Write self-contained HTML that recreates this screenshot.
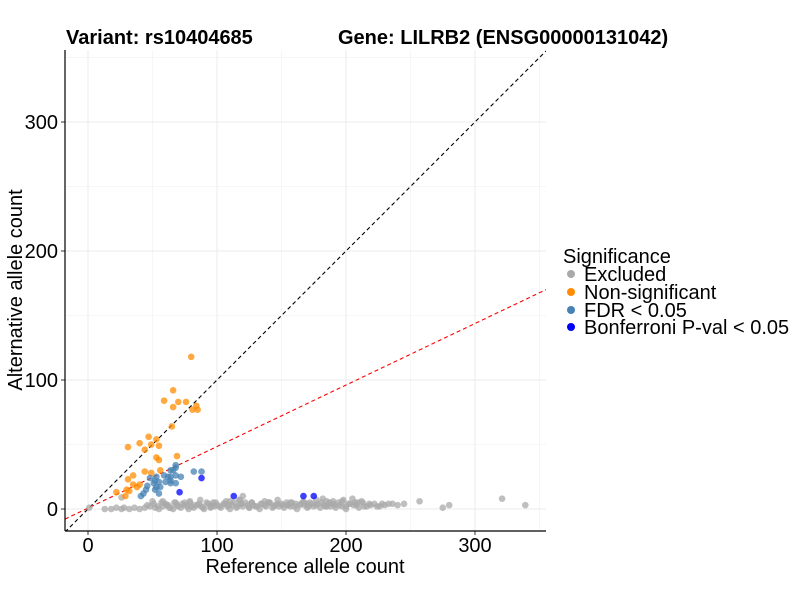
<!DOCTYPE html>
<html><head><meta charset="utf-8"><style>
body{margin:0;background:#fff;font-family:"Liberation Sans",sans-serif}
svg text{font-family:"Liberation Sans",sans-serif}
</style></head><body>
<svg id="chart" width="800" height="600" xmlns="http://www.w3.org/2000/svg">
<rect width="800" height="600" fill="#fff"/>
<g id="grid"></g>
<g id="lines"></g>
<g id="pts"></g>
<g id="axes"></g>
<text x="66" y="44" font-size="20" font-weight="bold">Variant: rs10404685</text>
<text x="338" y="44" font-size="20" font-weight="bold">Gene: LILRB2 (ENSG00000131042)</text>
<text x="305" y="573" font-size="20" text-anchor="middle">Reference allele count</text>
<text transform="translate(22,290) rotate(-90)" font-size="20" text-anchor="middle">Alternative allele count</text>
<g>
<text x="563" y="263" font-size="20">Significance</text>
<circle cx="571" cy="274" r="4" fill="#A9A9A9"/>
<text x="584" y="281" font-size="20">Excluded</text>
<circle cx="571" cy="292" r="4" fill="#FF8C00"/>
<text x="584" y="299" font-size="20">Non-significant</text>
<circle cx="571" cy="310" r="4" fill="#4682B4"/>
<text x="584" y="317" font-size="20">FDR &lt; 0.05</text>
<circle cx="571" cy="327" r="4" fill="#0000FF"/>
<text x="584" y="334" font-size="20">Bonferroni P-val &lt; 0.05</text>
</g>
</svg>
<script>
const xTicks=[0,100,200,300];
const yTicks=[0,100,200,300];
const minorTicks=[50,150,250,350];
const orangeX=[80,66,59,70,76,66,84,81,85,65,47,53,40,49,55,31,44,53,55,69,44,56,49,35,31,40,35,38,30,32,22,29];
const orangeY=[118,92,84,83,83,79,80,77,77,64,56,54,51,50,49,48,46,40,38,41,29,30,28,26,23,19,19,17,15,14,13,10];
const fdrX=[68,68,66,64,82,88,72,68,59,62,64,53,48,64,60,68,64,55,53,51,46,45,56,52,55,43,41,52];
const fdrY=[34,32,30,30,29,29,25,26,26,25,25,25,24,22,21,20,20,21,17,20,18,15,17,15,12,12,10,22];
const bonfX=[88,71,113,167,175];
const bonfY=[24,13,10,10,10];
const grayX=[1,13,18,22,26,28,32,36,40,44,48,52,55,58,60,63,66,70,72,75,78,80,82,85,88,90,93,95,98,100,103,105,108,110,112,115,118,120,122,125,128,130,133,135,138,140,143,145,148,150,152,155,158,160,162,165,168,170,172,175,178,180,183,185,188,190,192,195,198,200,203,205,208,210,213,216,219,222,226,230,233,236,240,245,257,275,280,321,339,26,50,62,75,95,110,125,140,155,170,185,200,120,118,182,190,212,228,
46,51,54,57,61,64,67,69,73,77,79,83,86,89,92,96,99,102,106,109,113,116,119,124,127,131,134,137,141,144,147,151,154,157,161,164,167,171,174,177,181,184,187,191,194,197,202,206,209,214,218,224,58,68,79,87,97,107,117,127,137,147,157,167,177,187,197,207];
const grayY=[1,0,0,1,0,1,0,1,0,1,2,1,0,2,4,1,0,2,1,3,0,2,1,3,2,0,4,1,2,3,1,4,2,0,3,1,4,2,5,1,3,2,0,4,2,5,1,3,2,4,1,3,5,2,0,4,3,1,5,2,4,1,3,6,2,4,1,3,7,2,4,8,3,1,5,2,3,4,2,3,4,4,3,4,6,1,3,8,3,9,6,3,5,2,6,1,5,3,4,2,0,10,7,8,6,6,4,
3,4,2,5,3,1,5,3,4,2,5,3,4,1,5,3,5,2,4,3,5,2,4,3,5,2,4,3,5,2,4,3,5,2,4,3,5,2,4,3,5,2,4,3,5,2,4,3,5,2,4,2,6,5,6,7,5,6,7,5,6,7,5,6,7,5,6,5];
const NS='http://www.w3.org/2000/svg';
const L=65,R=546,T=50,B=531;
const sx=v=>88+v*1.29, sy=v=>509-v*1.29;
function mk(tag,attrs,parent){const e=document.createElementNS(NS,tag);for(const k in attrs)e.setAttribute(k,attrs[k]);parent.appendChild(e);return e;}
const grid=document.getElementById('grid'),lines=document.getElementById('lines'),pts=document.getElementById('pts'),axes=document.getElementById('axes');
minorTicks.forEach(v=>{
  if(sx(v)<R){const g=mk('line',{x1:sx(v),x2:sx(v),y1:T,y2:B,stroke:'#f3f3f3','stroke-width':0.7},grid);
  
  }
  if(sy(v)>T){const h=mk('line',{x1:L,x2:R,y1:sy(v),y2:sy(v),stroke:'#f3f3f3','stroke-width':0.7},grid);
  
  }
});
xTicks.forEach(v=>{
  const g=mk('line',{x1:sx(v),x2:sx(v),y1:T,y2:B,stroke:'#ebebeb','stroke-width':1},grid);
  
  
  const t=mk('line',{x1:sx(v),x2:sx(v),y1:B,y2:B+4,stroke:'#333','stroke-width':1},axes);
  
  
  const l=mk('text',{x:sx(v),y:B+21,'font-size':20,'text-anchor':'middle',fill:'#000'},axes);
  l.textContent=v;
  
  
});
yTicks.forEach(v=>{
  const g=mk('line',{x1:L,x2:R,y1:sy(v),y2:sy(v),stroke:'#ebebeb','stroke-width':1},grid);
  
  
  const t=mk('line',{x1:L-4,x2:L,y1:sy(v),y2:sy(v),stroke:'#333','stroke-width':1},axes);
  
  
  const l=mk('text',{x:L-7,y:sy(v)+7,'font-size':20,'text-anchor':'end',fill:'#000'},axes);
  l.textContent=v;
  
  
});
const ax1=mk('line',{x1:L,x2:L,y1:T,y2:B,stroke:'#000','stroke-width':1.2},axes);


const ax2=mk('line',{x1:L,x2:R,y1:B,y2:B,stroke:'#000','stroke-width':1.2},axes);


const x0=(L-88)/1.29,x1=(R-88)/1.29;
const cp=mk('clipPath',{id:'cp'},lines);mk('rect',{x:L,y:T,width:R-L,height:B-T},cp);
const dl=mk('line',{x1:sx(x0),y1:sy(x0),x2:sx(x1),y2:sy(x1),stroke:'#000','stroke-width':1.1,'stroke-dasharray':'4,3','clip-path':'url(#cp)'},lines);


const rl=mk('line',{x1:sx(x0),y1:sy(0.477*x0+0.7),x2:sx(x1),y2:sy(0.477*x1+0.7),stroke:'#ff0000','stroke-width':1.1,'stroke-dasharray':'4,3','clip-path':'url(#cp)'},lines);


function series(xs,ys,col,name){xs.forEach((x,i)=>{
  const c=mk('circle',{cx:sx(x),cy:sy(ys[i]),r:3.3,fill:col,'fill-opacity':0.75},pts);
  
  
});}
series(grayX,grayY,'#A9A9A9','excluded-point');
series(orangeX,orangeY,'#FF8C00','nonsignificant-point');
series(fdrX,fdrY,'#4682B4','fdr-point');
series(bonfX,bonfY,'#0000FF','bonferroni-point');
</script>
</body></html>
